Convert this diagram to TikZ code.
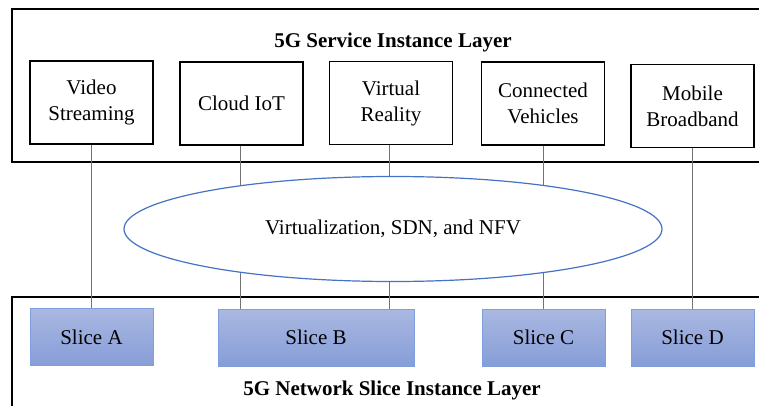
\documentclass[tikz,border=0pt]{standalone}
\usepackage{fontspec}
\setmainfont{Liberation Serif}
\usetikzlibrary{shapes.geometric}
\definecolor{ovalblue}{RGB}{68,114,196}
\definecolor{slicetop}{RGB}{170,184,226}
\definecolor{slicebot}{RGB}{134,157,215}
\definecolor{sliceline}{RGB}{128,158,222}
\tikzset{
	svc/.style={draw=black, line width=1.1pt, fill=white, align=center,
			minimum width=123pt, minimum height=83pt, inner sep=2pt},
	slice/.style={draw=sliceline, line width=1pt, top color=slicetop, bottom color=slicebot,
			minimum height=57pt, inner sep=2pt},
	link/.style={draw=black!55, line width=0.9pt},
	layer/.style={draw=black, line width=1.1pt},
	heading/.style={font=\fontsize{21}{26}\selectfont\bfseries, anchor=base}
}

\begin{document}
\begin{tikzpicture}[x=1pt, y=-1pt, font=\fontsize{21}{26}\selectfont]
		\useasboundingbox (0, 0) rectangle (759, 406);

		\draw[layer]	(759, 9) -- (12, 9) -- (12, 162) -- (759, 162);
		\draw[layer]	(759, 297) -- (12, 297) -- (12, 406);

		\node[heading] (svclayer) at (393, 48) {5G Service Instance Layer};
		\node[heading] (slicelayer) at (392, 395) {5G Network Slice Instance Layer};

		\node[svc] (video) at (91.5, 102.5) {Video\\Streaming};
		\node[svc] (cloud) at (241.5, 103.5) {Cloud IoT};
		\node[svc] (vr) at (391, 103) {Virtual\\Reality};
		\node[svc] (cars) at (543, 103.5) {Connected\\Vehicles};
		\node[svc] (mbb) at (692.5, 106) {Mobile\\Broadband};

		\node[slice, minimum width=123pt] (sliceA) at (91.5, 337) {Slice A};
		\node[slice, minimum width=196pt] (sliceB) at (316, 337.5) {Slice B};
		\node[slice, minimum width=123pt] (sliceC) at (543.5, 337.5) {Slice C};
		\node[slice, minimum width=123pt] (sliceD) at (692.5, 337.5) {Slice D};

		\draw[link]	(video.south) -- (sliceA.north);
		\draw[link]	(mbb.south) -- (sliceD.north);
		\draw[link]	([xshift=-1.5pt]cloud.south) -- ([xshift=-1.5pt]cloud.south |- sliceB.north);
		\draw[link]	([xshift=-2pt]vr.south) -- ([xshift=-2pt]vr.south |- sliceB.north);
		\draw[link]	(cars.south) -- (cars.south |- sliceC.north);

		\node[ellipse, draw=ovalblue, fill=white, line width=1.2pt, minimum width=538pt,
			minimum height=105pt, inner sep=0pt] (virt) at (393, 229) {Virtualization, SDN, and NFV};
	\end{tikzpicture}
\end{document}
